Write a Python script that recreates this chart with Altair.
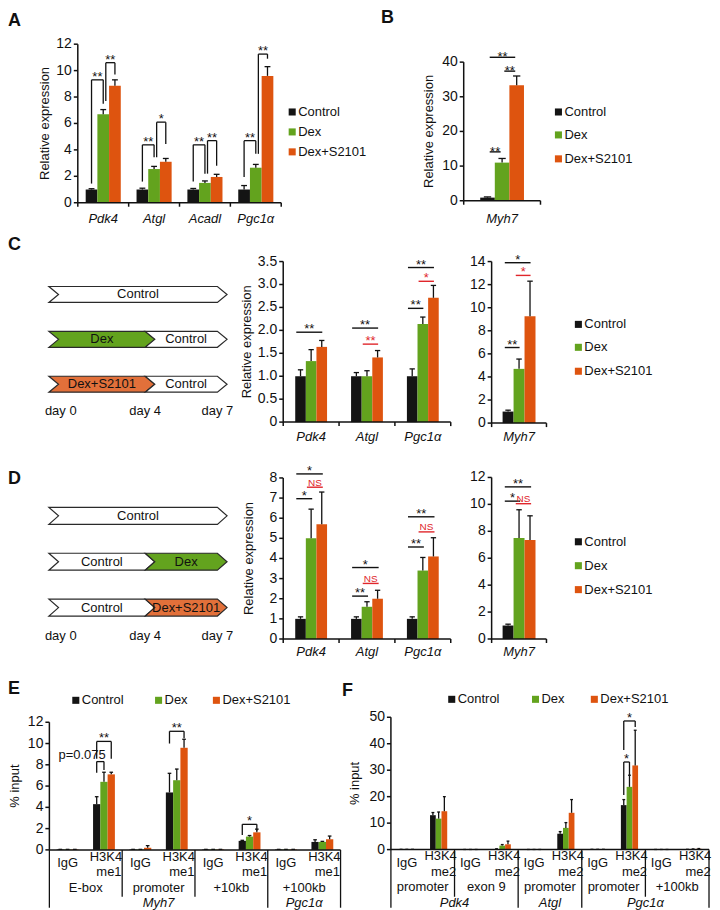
import altair as alt
import pandas as pd

# ============================ DATA ============================
SERIES = ["Control", "Dex", "Dex+S2101"]

# Panel A
A_GENES = ["Pdk4", "Atgl", "Acadl", "Pgc1α"]
A_CONTROL = [1.0, 1.0, 1.0, 1.0]
A_DEX = [6.7, 2.55, 1.5, 2.65]
A_DEX_S2101 = [8.85, 3.1, 1.95, 9.6]
A_CONTROL_SEM = [0.06, 0.1, 0.08, 0.3]
A_DEX_SEM = [0.35, 0.2, 0.15, 0.25]
A_DEX_S2101_SEM = [0.45, 0.25, 0.2, 0.7]
A_YTICKS = [0, 2, 4, 6, 8, 10, 12]
A_YLABELS = ["0", "2", "4", "6", "8", "10", "12"]
# group, from series, to series, bracket height, left leg end, right leg end, label
A_BRACKETS = [
    (0, 0, 1, 9.3, 1.45, 7.5, "**"),
    (0, 1, 2, 10.6, 7.7, 9.7, "**"),
    (1, 0, 1, 4.38, 1.6, 3.45, "**"),
    (1, 1, 2, 6.1, 3.45, 4.45, "*"),
    (2, 0, 1, 4.38, 1.6, 2.2, "**"),
    (2, 1, 2, 4.7, 2.2, 2.8, "**"),
    (3, 0, 1, 4.7, 1.95, 3.7, "**"),
    (3, 1, 2, 11.25, 3.7, 10.9, "**"),
]

# Panel B
B_GENES = ["Myh7"]
B_CONTROL = [0.9]
B_DEX = [11.0]
B_DEX_S2101 = [33.3]
B_CONTROL_SEM = [0.2]
B_DEX_SEM = [1.2]
B_DEX_S2101_SEM = [2.7]
B_YTICKS = [0, 10, 20, 30, 40]
B_YLABELS = ["0", "10", "20", "30", "40"]
# group, from series, to series, height, label, colour
B_MARKS = [(0, 0, 2, 41.4, "**", "black"), (0, 1, 2, 37.4, "**", "black"), (0, 0, 1, 14.1, "**", "black")]

# Panel C
C_GENES = ["Pdk4", "Atgl", "Pgc1α"]
C_CONTROL = [1.0, 1.0, 1.0]
C_DEX = [1.33, 1.0, 2.14]
C_DEX_S2101 = [1.64, 1.41, 2.71]
C_CONTROL_SEM = [0.14, 0.08, 0.16]
C_DEX_SEM = [0.25, 0.12, 0.15]
C_DEX_S2101_SEM = [0.14, 0.15, 0.27]
C_YTICKS = [0, 0.5, 1, 1.5, 2, 2.5, 3, 3.5]
C_YLABELS = ["0", "0.5", "1.0", "1.5", "2.0", "2.5", "3.0", "3.5"]
C_MARKS = [
    (0, 0, 2, 1.96, "**", "black"),
    (1, 0, 2, 2.05, "**", "black"), (1, 1, 2, 1.70, "**", "red"),
    (2, 0, 2, 3.37, "**", "black"), (2, 1, 2, 3.07, "*", "red"), (2, 0, 1, 2.48, "**", "black"),
]
CM_GENES = ["Myh7"]
CM_CONTROL = [1.0]
CM_DEX = [4.7]
CM_DEX_S2101 = [9.25]
CM_CONTROL_SEM = [0.12]
CM_DEX_SEM = [0.85]
CM_DEX_S2101_SEM = [3.05]
CM_YTICKS = [0, 2, 4, 6, 8, 10, 12, 14]
CM_YLABELS = ["0", "2", "4", "6", "8", "10", "12", "14"]
CM_MARKS = [(0, 0, 2, 13.9, "*", "black"), (0, 1, 2, 12.8, "*", "red"), (0, 0, 1, 6.55, "**", "black")]

# Panel D
D_GENES = ["Pdk4", "Atgl", "Pgc1α"]
D_CONTROL = [1.0, 1.0, 1.0]
D_DEX = [5.0, 1.6, 3.4]
D_DEX_S2101 = [5.7, 2.0, 4.1]
D_CONTROL_SEM = [0.1, 0.1, 0.1]
D_DEX_SEM = [1.45, 0.25, 0.65]
D_DEX_S2101_SEM = [1.6, 0.42, 0.93]
D_YTICKS = [0, 1, 2, 3, 4, 5, 6, 7, 8]
D_YLABELS = ["0", "1", "2", "3", "4", "5", "6", "7", "8"]
D_MARKS = [
    (0, 0, 2, 8.2, "*", "black"), (0, 1, 2, 7.54, "NS", "red"), (0, 0, 1, 6.97, "*", "black"),
    (1, 0, 2, 3.55, "*", "black"), (1, 1, 2, 2.76, "NS", "red"), (1, 0, 1, 2.13, "**", "black"),
    (2, 0, 2, 6.07, "**", "black"), (2, 1, 2, 5.32, "NS", "red"), (2, 0, 1, 4.57, "**", "black"),
]
DM_GENES = ["Myh7"]
DM_CONTROL = [1.0]
DM_DEX = [7.5]
DM_DEX_S2101 = [7.35]
DM_CONTROL_SEM = [0.1]
DM_DEX_SEM = [2.1]
DM_DEX_S2101_SEM = [1.8]
DM_YTICKS = [0, 2, 4, 6, 8, 10, 12]
DM_YLABELS = ["0", "2", "4", "6", "8", "10", "12"]
DM_MARKS = [(0, 0, 2, 11.3, "**", "black"), (0, 0, 1, 10.24, "*", "black"), (0, 1, 2, 10.05, "NS", "red")]

# Treatment schemes (label, start day, end day) per row
C_SCHEME = [[("Control", 0, 7)], [("Dex", 0, 4), ("Control", 4, 7)], [("Dex+S2101", 0, 4), ("Control", 4, 7)]]
D_SCHEME = [[("Control", 0, 7)], [("Control", 0, 4), ("Dex", 4, 7)], [("Control", 0, 4), ("Dex+S2101", 4, 7)]]
DAYS = [0, 4, 7]
DAY_LABELS = ["day 0", "day 4", "day 7"]

# Panel E (ChIP H3K4me1)
E_PROBES = ["IgG", "H3K4me1"]
E_REGIONS = ["E-box", "promoter", "+10kb", "+100kb"]
E_GENE_SPANS = [("Myh7", 0, 3), ("Pgc1α", 3, 4)]
E_CONTROL = [0.05, 4.3, 0.05, 5.4, 0.05, 0.85, 0.05, 0.75]
E_DEX = [0.05, 6.4, 0.05, 6.55, 0.05, 1.25, 0.05, 0.75]
E_DEX_S2101 = [0.05, 7.1, 0.2, 9.6, 0.05, 1.65, 0.05, 1.0]
E_CONTROL_SEM = [0.0, 0.7, 0.0, 1.8, 0.0, 0.05, 0.0, 0.2]
E_DEX_SEM = [0.0, 0.9, 0.0, 1.05, 0.0, 0.1, 0.0, 0.05]
E_DEX_S2101_SEM = [0.0, 0.2, 0.2, 0.8, 0.0, 0.3, 0.0, 0.3]
E_YTICKS = [0, 2, 4, 6, 8, 10, 12]
E_YLABELS = ["0", "2", "4", "6", "8", "10", "12"]
E_BRACKETS = [
    (1, 0, 2, 10.2, 8.56, 8.56, "**"),
    (1, 0, 1, 8.3, 7.25, 7.5, ""),
    (3, 0, 2, 11.15, 10.0, 10.5, "**"),
    (5, 0, 2, 2.4, 1.4, 1.8, "*"),
]
E_NOTE = [(1, 0, 8.3, "p=0.075")]

# Panel F (ChIP H3K4me2)
F_PROBES = ["IgG", "H3K4me2"]
F_REGIONS = ["promoter", "exon 9", "promoter", "promoter", "+100kb"]
F_GENE_SPANS = [("Pdk4", 0, 2), ("Atgl", 2, 3), ("Pgc1α", 3, 5)]
F_CONTROL = [0.1, 13.0, 0.05, 0.2, 0.05, 6.0, 0.1, 16.8, 0.05, 0.1]
F_DEX = [0.1, 11.7, 0.05, 1.5, 0.05, 8.2, 0.1, 23.7, 0.05, 0.2]
F_DEX_S2101 = [0.1, 14.5, 0.05, 2.0, 0.05, 13.9, 0.1, 31.8, 0.05, 0.3]
F_CONTROL_SEM = [0.0, 1.0, 0.0, 0.1, 0.0, 0.8, 0.0, 2.1, 0.0, 0.0]
F_DEX_SEM = [0.0, 2.5, 0.0, 0.4, 0.0, 2.0, 0.0, 4.4, 0.0, 0.05]
F_DEX_S2101_SEM = [0.0, 5.5, 0.0, 1.2, 0.0, 5.0, 0.0, 13.3, 0.0, 0.1]
F_YTICKS = [0, 10, 20, 30, 40, 50]
F_YLABELS = ["0", "10", "20", "30", "40", "50"]
F_BRACKETS = [
    (7, 0, 2, 48.6, 37.6, 46.3, "*"),
    (7, 0, 1, 33.1, 20.6, 28.2, "*"),
]

# ============================ STYLE / LAYOUT ============================
OX, OY = 8, 8          # page margin: reference page px -> plot px
W, H = 704, 886
FONT = "Liberation Sans"
BLACK = "#111111"
RED = "#e0262b"
COLORS = ["#141414", "#63a31e", "#de540f"]
ARROW_FILL = {"Control": "#ffffff", "Dex": "#63a31e", "Dex+S2101": "#e2703a"}
MARK_COLORS = {"black": BLACK, "red": RED}
AXW = 1.5


def px(x):
    return x - OX


def py(y):
    return y - OY


def series_table(names, means, sems):
    rows = []
    for gi, name in enumerate(names):
        for si, s in enumerate(SERIES):
            rows.append({"g": gi, "name": name, "s": si, "series": s,
                         "v": means[si][gi], "e": sems[si][gi]})
    return pd.DataFrame(rows)


def make_scales(n, xr, yr, ydom):
    xs = alt.Scale(domain=[0, n], range=[px(xr[0]), px(xr[1])], nice=False, zero=False)
    ys = alt.Scale(domain=ydom, range=[py(yr[0]), py(yr[1])], nice=False, zero=False)
    return xs, ys


def axis_layers(n, xs, ys, ydom, yticks, ylabels, title=None, title_x=None, xticks=True):
    kw = dict(color=BLACK, strokeWidth=AXW)
    one = pd.DataFrame({"k": [0]})
    out = []
    out.append(alt.Chart(one).mark_rule(**kw).encode(
        x=alt.X(datum=0, scale=xs, axis=None),
        y=alt.Y(datum=ydom[0], scale=ys, axis=None), y2=alt.datum(ydom[1])))
    out.append(alt.Chart(one).mark_rule(**kw).encode(
        x=alt.X(datum=0, scale=xs, axis=None), x2=alt.datum(n),
        y=alt.Y(datum=0, scale=ys, axis=None)))
    tdf = pd.DataFrame({"t": yticks, "lab": ylabels})
    out.append(alt.Chart(tdf).mark_rule(xOffset=-4, **kw).encode(
        x=alt.X(datum=0, scale=xs, axis=None), x2=alt.datum(0),
        y=alt.Y("t:Q", scale=ys, axis=None)))
    out.append(alt.Chart(tdf).mark_text(font=FONT, fontSize=14, color=BLACK, align="right",
                                        baseline="middle", dx=-6).encode(
        x=alt.X(datum=0, scale=xs, axis=None), y=alt.Y("t:Q", scale=ys, axis=None), text="lab:N"))
    if xticks:
        kdf = pd.DataFrame({"k": list(range(n + 1))})
        out.append(alt.Chart(kdf).mark_rule(y2Offset=4, **kw).encode(
            x=alt.X("k:Q", scale=xs, axis=None),
            y=alt.Y(datum=0, scale=ys, axis=None), y2=alt.datum(0)))
    if title:
        out.append(alt.Chart(pd.DataFrame({"t": [title]})).mark_text(
            font=FONT, fontSize=13, color=BLACK, angle=270, baseline="middle", align="center").encode(
            x=alt.value(px(title_x)), y=alt.Y(datum=(ydom[0] + ydom[1]) / 2, scale=ys, axis=None),
            text="t:N"))
    return out


def bar_layers(df, xs, ys, bw):
    base = alt.Chart(df).transform_calculate(
        xc=f"datum.g + 0.5 + (datum.s - 1) * {bw}"
    ).transform_calculate(
        xa=f"datum.xc - {bw / 2}",
        xb=f"datum.xc + {bw / 2}",
        top="datum.v + datum.e",
        ca=f"datum.xc - {bw * 0.25}",
        cb=f"datum.xc + {bw * 0.25}",
    )
    bars = base.mark_rect().encode(
        x=alt.X("xa:Q", scale=xs, axis=None),
        x2="xb:Q",
        y=alt.Y("v:Q", scale=ys, axis=None),
        y2=alt.datum(0),
        color=alt.Color("series:N", scale=alt.Scale(domain=SERIES, range=COLORS), legend=None),
    )
    err = base.mark_rule(color=BLACK, strokeWidth=1.3).encode(
        x=alt.X("xc:Q", scale=xs, axis=None),
        y=alt.Y("v:Q", scale=ys, axis=None),
        y2="top:Q",
    )
    cap = base.mark_rule(color=BLACK, strokeWidth=1.3).encode(
        x=alt.X("ca:Q", scale=xs, axis=None),
        x2="cb:Q",
        y=alt.Y("top:Q", scale=ys, axis=None),
    )
    return [bars, err, cap]


def gene_labels(names, xs, y_page):
    df = pd.DataFrame({"g": list(range(len(names))), "name": names})
    return alt.Chart(df).transform_calculate(xm="datum.g + 0.5").mark_text(
        font=FONT, fontSize=13, fontStyle="italic", color=BLACK
    ).encode(x=alt.X("xm:Q", scale=xs, axis=None), y=alt.value(py(y_page)), text="name:N")


def bracket_layers(brackets, bw, xs, ys):
    df = pd.DataFrame(brackets, columns=["g", "s1", "s2", "h", "l1", "l2", "label"])
    base = alt.Chart(df).transform_calculate(
        x1=f"datum.g + 0.5 + (datum.s1 - 1) * {bw} + (datum.s1 == 1 ? {0.22 * bw} : 0)",
        x2=f"datum.g + 0.5 + (datum.s2 - 1) * {bw}",
    ).transform_calculate(xm="(datum.x1 + datum.x2) / 2")
    kw = dict(color=BLACK, strokeWidth=1.3)
    top = base.mark_rule(**kw).encode(
        x=alt.X("x1:Q", scale=xs, axis=None), x2="x2:Q", y=alt.Y("h:Q", scale=ys, axis=None))
    leg1 = base.mark_rule(**kw).encode(
        x=alt.X("x1:Q", scale=xs, axis=None), y=alt.Y("l1:Q", scale=ys, axis=None), y2="h:Q")
    leg2 = base.mark_rule(**kw).encode(
        x=alt.X("x2:Q", scale=xs, axis=None), y=alt.Y("l2:Q", scale=ys, axis=None), y2="h:Q")
    txt = base.mark_text(font=FONT, fontSize=13, color=BLACK, baseline="alphabetic", dy=1).encode(
        x=alt.X("xm:Q", scale=xs, axis=None), y=alt.Y("h:Q", scale=ys, axis=None), text="label:N")
    return [top, leg1, leg2, txt]


def line_mark_layers(marks, bw, n1, n2, xs, ys, star_dy=1):
    rows = [dict(g=g, s1=a, s2=b, h=h, label=l, col=MARK_COLORS[c]) for g, a, b, h, l, c in marks]
    df = pd.DataFrame(rows)
    base = alt.Chart(df).transform_calculate(
        x1=f"datum.g + 0.5 + (datum.s1 - 1) * {bw} + {n1 * bw}",
        x2=f"datum.g + 0.5 + (datum.s2 - 1) * {bw} + {n2 * bw}",
    ).transform_calculate(xm="(datum.x1 + datum.x2) / 2")
    rule = base.mark_rule(strokeWidth=1.4).encode(
        x=alt.X("x1:Q", scale=xs, axis=None), x2="x2:Q",
        y=alt.Y("h:Q", scale=ys, axis=None), color=alt.Color("col:N", scale=None))
    stars = base.transform_filter("datum.label != 'NS'").mark_text(
        font=FONT, fontSize=13, baseline="alphabetic", dy=star_dy).encode(
        x=alt.X("xm:Q", scale=xs, axis=None), y=alt.Y("h:Q", scale=ys, axis=None),
        text="label:N", color=alt.Color("col:N", scale=None))
    ns = base.transform_filter("datum.label == 'NS'").mark_text(
        font=FONT, fontSize=10, baseline="alphabetic", dy=-1.5).encode(
        x=alt.X("xm:Q", scale=xs, axis=None), y=alt.Y("h:Q", scale=ys, axis=None),
        text="label:N", color=alt.Color("col:N", scale=None))
    return [rule, stars, ns]


def table_layers(probes, regions, gene_spans, xs, ys, rows_y, sep_bottom, full_bottom):
    n_regions = len(regions)
    gene_edges = set()
    for _, a, b in gene_spans:
        gene_edges.add(a)
        gene_edges.add(b)
    sep_df = pd.DataFrame([{"b": 2 * r, "full": r in gene_edges} for r in range(n_regions + 1)])
    kw = dict(color=BLACK, strokeWidth=1.3)
    full = alt.Chart(sep_df).transform_filter("datum.full").mark_rule(**kw).encode(
        x=alt.X("b:Q", scale=xs, axis=None), y=alt.Y(datum=0, scale=ys, axis=None),
        y2=alt.value(py(full_bottom)))
    part = alt.Chart(sep_df).transform_filter("!datum.full").mark_rule(**kw).encode(
        x=alt.X("b:Q", scale=xs, axis=None), y=alt.Y(datum=0, scale=ys, axis=None),
        y2=alt.value(py(sep_bottom)))
    reg_df = pd.DataFrame({"r": list(range(n_regions)), "region": regions})
    top_probe, bot_probe = probes[1][:4], probes[1][4:]
    tkw = dict(font=FONT, fontSize=13, color=BLACK)
    igg = alt.Chart(reg_df).transform_calculate(xm="2 * datum.r + 0.5", t=f"'{probes[0]}'").mark_text(
        **tkw).encode(x=alt.X("xm:Q", scale=xs, axis=None), y=alt.value(py(rows_y[0])), text="t:N")
    h1 = alt.Chart(reg_df).transform_calculate(xm="2 * datum.r + 1.5", t=f"'{top_probe}'").mark_text(
        dx=2, **tkw).encode(x=alt.X("xm:Q", scale=xs, axis=None), y=alt.value(py(rows_y[1])), text="t:N")
    h2 = alt.Chart(reg_df).transform_calculate(xm="2 * datum.r + 1.5", t=f"'{bot_probe}'").mark_text(
        dx=5, **tkw).encode(x=alt.X("xm:Q", scale=xs, axis=None), y=alt.value(py(rows_y[2])), text="t:N")
    reg = alt.Chart(reg_df).transform_calculate(xm="2 * datum.r + 1").mark_text(**tkw).encode(
        x=alt.X("xm:Q", scale=xs, axis=None), y=alt.value(py(rows_y[3])), text="region:N")
    gdf = pd.DataFrame([{"gene": g, "a": a, "b": b} for g, a, b in gene_spans])
    gene = alt.Chart(gdf).transform_calculate(xm="datum.a + datum.b").mark_text(
        fontStyle="italic", **tkw).encode(
        x=alt.X("xm:Q", scale=xs, axis=None), y=alt.value(py(rows_y[4])), text="gene:N")
    return [full, part, igg, h1, h2, reg, gene]


def scheme_layers(scheme, x_page, row_page, half, tip, day_y_page):
    xs = alt.Scale(domain=[0, 7], range=[px(x_page[0]), px(x_page[1])], nice=False, zero=False)
    ys = alt.Scale(domain=[0, 2], range=[py(row_page[0]), py(row_page[1])], nice=False, zero=False)
    recs, labs = [], []
    sid = 0
    for r, segs in enumerate(scheme):
        for (label, a, b) in segs:
            pts = [(a, r - half), (b, r - half), (b + tip, r), (b, r + half), (a, r + half), (a + tip, r)]
            for k, (x, y) in enumerate(pts):
                recs.append({"seg": sid, "k": k, "x": x, "y": y, "fillc": ARROW_FILL[label]})
            labs.append({"label": label, "xm": (a + b) / 2 + tip / 2, "r": r})
            sid += 1
    poly = alt.Chart(pd.DataFrame(recs)).mark_line(
        interpolate="linear-closed", stroke="#2a2a2a", strokeWidth=1.2, strokeJoin="miter"
    ).encode(
        x=alt.X("x:Q", scale=xs, axis=None), y=alt.Y("y:Q", scale=ys, axis=None),
        order="k:Q", detail="seg:N", fill=alt.Fill("fillc:N", scale=None))
    txt = alt.Chart(pd.DataFrame(labs)).mark_text(font=FONT, fontSize=13, color=BLACK).encode(
        x=alt.X("xm:Q", scale=xs, axis=None), y=alt.Y("r:Q", scale=ys, axis=None), text="label:N")
    ddf = pd.DataFrame({"day": DAYS, "label": DAY_LABELS})
    d0 = alt.Chart(ddf).transform_filter("datum.day == 0").mark_text(
        font=FONT, fontSize=13, color=BLACK, align="left", dx=-4).encode(
        x=alt.X("day:Q", scale=xs, axis=None), y=alt.value(py(day_y_page)), text="label:N")
    dn = alt.Chart(ddf).transform_filter("datum.day > 0").mark_text(
        font=FONT, fontSize=13, color=BLACK, align="center").encode(
        x=alt.X("day:Q", scale=xs, axis=None), y=alt.value(py(day_y_page)), text="label:N")
    return alt.layer(poly, txt, d0, dn)


def legend_layers(items):
    out = []
    for name, color, xq, yq, xt in items:
        one = pd.DataFrame({"name": [name]})
        out.append(alt.Chart(one).mark_square(size=50, color=color, opacity=1).encode(
            x=alt.value(px(xq)), y=alt.value(py(yq))))
        out.append(alt.Chart(one).mark_text(font=FONT, fontSize=13, color=BLACK, align="left",
                                            baseline="middle").encode(
            x=alt.value(px(xt)), y=alt.value(py(yq)), text="name:N"))
    return out


def vertical_legend(xq, ys_page):
    return legend_layers([(SERIES[i], COLORS[i], xq, ys_page[i], xq + 6) for i in range(3)])


def panel_letter(letter, x_page, y_page):
    return alt.Chart(pd.DataFrame({"t": [letter]})).mark_text(
        font=FONT, fontSize=18, fontWeight="bold", color=BLACK, align="left", baseline="middle"
    ).encode(x=alt.value(px(x_page)), y=alt.value(py(y_page)), text="t:N")


layers = []

# ---------- A ----------
dfA = series_table(A_GENES, [A_CONTROL, A_DEX, A_DEX_S2101], [A_CONTROL_SEM, A_DEX_SEM, A_DEX_S2101_SEM])
xs, ys = make_scales(4, (78, 282), (194, 35), [0, 12])
layers.append(alt.layer(
    *bar_layers(dfA, xs, ys, 0.23),
    *axis_layers(4, xs, ys, [0, 12], A_YTICKS, A_YLABELS, "Relative expression", 45),
    *bracket_layers(A_BRACKETS, 0.23, xs, ys),
    gene_labels(A_GENES, xs, 210)))

# ---------- B ----------
dfB = series_table(B_GENES, [B_CONTROL, B_DEX, B_DEX_S2101], [B_CONTROL_SEM, B_DEX_SEM, B_DEX_S2101_SEM])
xs, ys = make_scales(1, (465, 542), (192, 53), [0, 40])
layers.append(alt.layer(
    *bar_layers(dfB, xs, ys, 0.19),
    *axis_layers(1, xs, ys, [0, 40], B_YTICKS, B_YLABELS, "Relative expression", 430),
    *line_mark_layers(B_MARKS, 0.19, 0.15, -0.1, xs, ys, star_dy=4),
    gene_labels(B_GENES, xs, 210)))

# ---------- C ----------
dfC = series_table(C_GENES, [C_CONTROL, C_DEX, C_DEX_S2101], [C_CONTROL_SEM, C_DEX_SEM, C_DEX_S2101_SEM])
xs, ys = make_scales(3, (284, 452), (414, 253), [0, 3.5])
layers.append(alt.layer(
    *bar_layers(dfC, xs, ys, 0.19),
    *axis_layers(3, xs, ys, [0, 3.5], C_YTICKS, C_YLABELS, "Relative expression", 248),
    *line_mark_layers(C_MARKS, 0.19, -0.4, 0.05, xs, ys),
    gene_labels(C_GENES, xs, 429)))

dfCM = series_table(CM_GENES, [CM_CONTROL, CM_DEX, CM_DEX_S2101], [CM_CONTROL_SEM, CM_DEX_SEM, CM_DEX_S2101_SEM])
xs, ys = make_scales(1, (493, 548), (415, 253), [0, 14])
layers.append(alt.layer(
    *bar_layers(dfCM, xs, ys, 0.2),
    *axis_layers(1, xs, ys, [0, 14], CM_YTICKS, CM_YLABELS),
    *line_mark_layers(CM_MARKS, 0.2, -0.3, 0.05, xs, ys),
    gene_labels(CM_GENES, xs, 429)))

layers.append(scheme_layers(C_SCHEME, (49, 218), (286, 376), 0.178, 0.4, 403))

# ---------- D ----------
dfD = series_table(D_GENES, [D_CONTROL, D_DEX, D_DEX_S2101], [D_CONTROL_SEM, D_DEX_SEM, D_DEX_S2101_SEM])
xs, ys = make_scales(3, (284, 452), (631.5, 470), [0, 8])
layers.append(alt.layer(
    *bar_layers(dfD, xs, ys, 0.19),
    *axis_layers(3, xs, ys, [0, 8], D_YTICKS, D_YLABELS, "Relative expression", 250),
    *line_mark_layers(D_MARKS, 0.19, -0.4, 0.1, xs, ys),
    gene_labels(D_GENES, xs, 645)))

dfDM = series_table(DM_GENES, [DM_CONTROL, DM_DEX, DM_DEX_S2101], [DM_CONTROL_SEM, DM_DEX_SEM, DM_DEX_S2101_SEM])
xs, ys = make_scales(1, (493, 548), (631.5, 469.5), [0, 12])
layers.append(alt.layer(
    *bar_layers(dfDM, xs, ys, 0.2),
    *axis_layers(1, xs, ys, [0, 12], DM_YTICKS, DM_YLABELS),
    *line_mark_layers(DM_MARKS, 0.2, -0.3, 0.1, xs, ys),
    gene_labels(DM_GENES, xs, 645)))

layers.append(scheme_layers(D_SCHEME, (49, 218), (508, 600), 0.185, 0.4, 629))

# ---------- E ----------
e_names = [p for _ in E_REGIONS for p in E_PROBES]
dfE = series_table(e_names, [E_CONTROL, E_DEX, E_DEX_S2101], [E_CONTROL_SEM, E_DEX_SEM, E_DEX_S2101_SEM])
xs, ys = make_scales(8, (49.5, 341.5), (843, 715), [0, 12])
note_df = pd.DataFrame(E_NOTE, columns=["g", "s", "h", "label"])
note = alt.Chart(note_df).transform_calculate(xn="datum.g + 0.5 + (datum.s - 1) * 0.2").mark_text(
    font=FONT, fontSize=13, color=BLACK, align="right", baseline="alphabetic", dx=9, dy=-2.5
).encode(x=alt.X("xn:Q", scale=xs, axis=None), y=alt.Y("h:Q", scale=ys, axis=None), text="label:N")
layers.append(alt.layer(
    *bar_layers(dfE, xs, ys, 0.2),
    *axis_layers(8, xs, ys, [0, 12], E_YTICKS, E_YLABELS, "% input", 15, xticks=False),
    *bracket_layers(E_BRACKETS, 0.2, xs, ys),
    note,
    *table_layers(E_PROBES, E_REGIONS, E_GENE_SPANS, xs, ys, [856, 850, 865, 881, 896], 890, 901)))

# ---------- F ----------
f_names = [p for _ in F_REGIONS for p in F_PROBES]
dfF = series_table(f_names, [F_CONTROL, F_DEX, F_DEX_S2101], [F_CONTROL_SEM, F_DEX_SEM, F_DEX_S2101_SEM])
xs, ys = make_scales(10, (392, 711), (842.7, 710), [0, 50])
layers.append(alt.layer(
    *bar_layers(dfF, xs, ys, 0.18),
    *axis_layers(10, xs, ys, [0, 50], F_YTICKS, F_YLABELS, "% input", 356, xticks=False),
    *bracket_layers(F_BRACKETS, 0.18, xs, ys),
    *table_layers(F_PROBES, F_REGIONS, F_GENE_SPANS, xs, ys, [856, 849, 865, 880, 896], 890, 901)))

# ---------- legends ----------
layers += vertical_legend(293, [103, 123, 143])
layers += vertical_legend(560, [103, 126, 150])
layers += vertical_legend(580, [316, 339, 363])
layers += vertical_legend(580, [534, 558, 582])
layers += legend_layers([("Control", COLORS[0], 76, 693, 82), ("Dex", COLORS[1], 159, 693, 165),
                         ("Dex+S2101", COLORS[2], 217, 693, 223)])
layers += legend_layers([("Control", COLORS[0], 453, 692, 459), ("Dex", COLORS[1], 537, 692, 543),
                         ("Dex+S2101", COLORS[2], 596, 692, 602)])

# ---------- panel letters ----------
for letter, xl, yl in [("A", 8, 12), ("B", 382, 9), ("C", 8, 236), ("D", 8, 471), ("E", 8, 682), ("F", 343, 684)]:
    layers.append(panel_letter(letter, xl, yl))

chart = alt.layer(*layers).resolve_scale(
    x="independent", y="independent"
).properties(width=W, height=H, padding=0, background="white").configure_view(stroke=None)

chart.save("out.html", embed_options={"renderer": "svg", "actions": False})
